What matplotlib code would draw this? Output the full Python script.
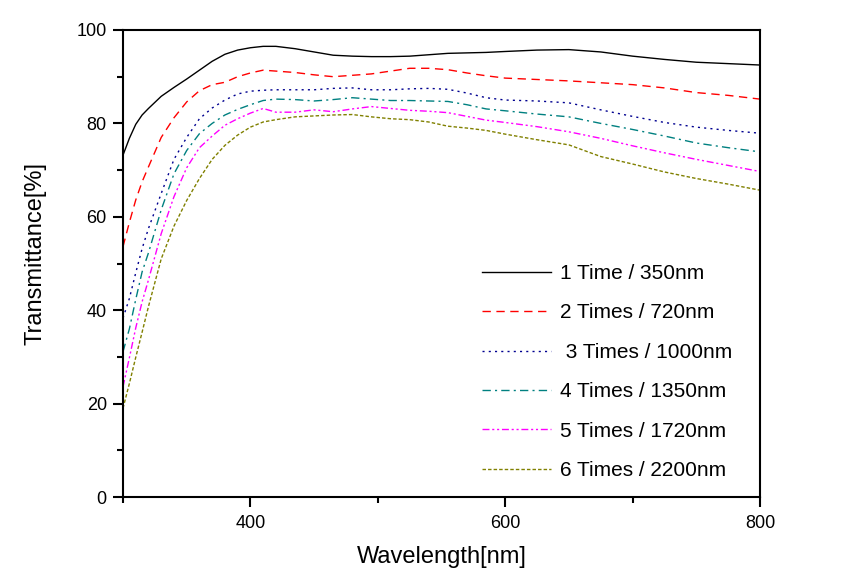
import numpy as np
import matplotlib
matplotlib.use("Agg")
import matplotlib.pyplot as plt
from matplotlib.ticker import MultipleLocator

plt.rcParams['font.family'] = ['Liberation Sans', 'DejaVu Sans']

# wavelength grid (nm) and transmittance (%)
wl = [300, 305, 310, 315, 320, 330, 340, 350, 360, 370, 380, 390, 400, 410, 420,
      435, 450, 465, 480, 495, 510, 525, 540, 555, 570, 585, 600, 625, 650, 675,
      700, 725, 750, 775, 800]

t1 = [73.2, 76.8, 79.8, 81.8, 83.2, 85.8, 87.7, 89.5, 91.4, 93.3, 94.8, 95.7, 96.2, 96.5, 96.5,
      96.0, 95.3, 94.6, 94.4, 94.3, 94.3, 94.4, 94.7, 95.0, 95.1, 95.2, 95.4, 95.7, 95.8, 95.3,
      94.4, 93.7, 93.1, 92.8, 92.5]
t2 = [53.6, 58.8, 63.6, 67.5, 70.7, 77.0, 81.2, 84.6, 87.0, 88.3, 88.8, 90.0, 90.8, 91.4, 91.2,
      90.9, 90.4, 90.0, 90.3, 90.6, 91.2, 91.8, 91.8, 91.5, 90.8, 90.2, 89.7, 89.4, 89.1, 88.7,
      88.3, 87.6, 86.6, 86.0, 85.2]
t3 = [38.3, 42.5, 48.0, 53.2, 57.5, 65.0, 72.3, 77.0, 81.0, 83.3, 85.0, 86.3, 86.9, 87.1, 87.2,
      87.2, 87.2, 87.5, 87.6, 87.2, 87.2, 87.4, 87.5, 87.3, 86.5, 85.5, 85.0, 84.8, 84.4, 82.9,
      81.5, 80.2, 79.2, 78.5, 77.9]
t4 = [31.1, 36.0, 42.3, 48.2, 52.3, 61.5, 69.2, 74.2, 77.8, 80.0, 81.8, 83.0, 84.0, 84.9, 85.2,
      85.1, 84.8, 85.1, 85.5, 85.2, 84.9, 84.9, 84.8, 84.7, 84.0, 83.1, 82.7, 82.0, 81.4, 80.0,
      78.7, 77.3, 75.8, 74.8, 73.9]
t5 = [23.6, 29.8, 36.2, 41.8, 46.5, 56.4, 64.3, 70.5, 74.8, 77.3, 79.6, 81.0, 82.2, 83.2, 82.4,
      82.4, 82.9, 82.5, 83.1, 83.6, 83.2, 82.8, 82.6, 82.3, 81.5, 80.7, 80.2, 79.3, 78.2, 76.8,
      75.2, 73.7, 72.3, 71.0, 69.7]
t6 = [19.0, 24.3, 29.9, 35.3, 40.8, 51.0, 58.0, 63.5, 68.2, 72.3, 75.3, 77.5, 79.2, 80.3, 80.8,
      81.4, 81.6, 81.8, 81.9, 81.4, 81.0, 80.8, 80.3, 79.4, 79.0, 78.5, 77.7, 76.5, 75.4, 72.9,
      71.3, 69.6, 68.2, 67.0, 65.7]

labels = ["1 Time / 350nm", "2 Times / 720nm", " 3 Times / 1000nm",
          "4 Times / 1350nm", "5 Times / 1720nm", "6 Times / 2200nm"]
colors = ["black", "#ff0000", "#000090", "#008080", "#ff00ff", "#808000"]
styles = ["-", (0, (6, 4)), (0, (1.5, 3)), (0, (6, 3, 1.5, 3)),
          (0, (5, 2, 1.5, 2, 1.5, 2)), (0, (2.5, 1.5))]

fig = plt.figure(figsize=(8.57, 5.71), dpi=100)
ax = fig.add_axes([123/857, 1 - 497/571, 637/857, 467/571])

for y, lab, c, ls in zip([t1, t2, t3, t4, t5, t6], labels, colors, styles):
    ax.plot(wl, y, color=c, linestyle=ls, linewidth=1.0, label=lab)

ax.set_xlim(300, 800)
ax.set_ylim(0, 100)
ax.xaxis.set_major_locator(MultipleLocator(200))
ax.xaxis.set_minor_locator(MultipleLocator(100))
ax.yaxis.set_major_locator(MultipleLocator(20))
ax.yaxis.set_minor_locator(MultipleLocator(10))
ax.tick_params(which='major', direction='out', length=7.2, width=1.5, labelsize=13, pad=4.5)
ax.tick_params(which='minor', direction='out', length=4, width=1.5)
ax.tick_params(axis='x', which='major', pad=5.5)
for s in ax.spines.values():
    s.set_linewidth(1.5)

ax.set_xlabel("Wavelength[nm]", fontsize=17, labelpad=10)
ax.set_ylabel("Transmittance[%]", fontsize=17, labelpad=10)
ax.yaxis.set_label_coords(-0.12, 0.522)

ax.legend(loc='upper left', bbox_to_anchor=(0.563, 0.499), frameon=False,
          fontsize=15, handlelength=3.35, handletextpad=0.42, labelspacing=0.98,
          borderpad=0, borderaxespad=0)

fig.savefig("out.png", dpi=100)
